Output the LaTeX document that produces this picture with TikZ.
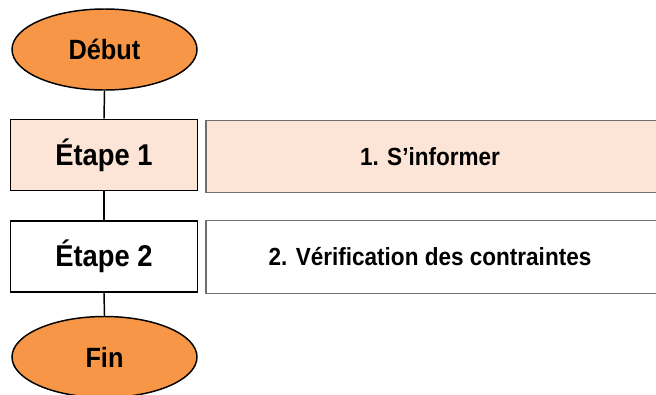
\documentclass[tikz,border=0pt]{standalone}
\usepackage{fontspec}
\usepackage{graphicx}
\setmainfont{Liberation Sans}
\usetikzlibrary{shapes.geometric}
\definecolor{orangefill}{HTML}{F79646}
\definecolor{peach}{HTML}{FCE4D6}
\definecolor{boxgray}{HTML}{6E6E6E}
\newcommand{\tallt}[1]{\scalebox{1}[1.1]{#1}}
\tikzset{
  term/.style={ellipse, draw=black, line width=1.1pt, fill=orangefill, inner sep=0pt,
    minimum width=138.75pt, minimum height=60.75pt,
    font=\fontsize{19}{22}\selectfont\bfseries},
  stepbox/.style={rectangle, draw=black, line width=1.1pt, inner sep=0pt,
    minimum width=140pt, minimum height=53.5pt,
    font=\fontsize{20.5}{24}\selectfont\bfseries},
  descbox/.style={rectangle, draw=boxgray, line width=0.9pt, inner sep=0pt,
    minimum width=342pt, minimum height=54.5pt,
    font=\fontsize{16.9}{20}\selectfont\bfseries},
  link/.style={draw=black, line width=1.1pt}
}
\begin{document}
\begin{tikzpicture}[x=0.75pt,y=-0.75pt]
\useasboundingbox (0,0) rectangle (656,394);
\node[term] (debut) at (104.5,49.5) {\tallt{Début}};
\node[stepbox, fill=peach] (e1) at (104,155) {\tallt{Étape 1}};
\node[stepbox, fill=white] (e2) at (104,256.5) {\tallt{Étape 2}};
\node[term] (fin) at (104.5,357) {\tallt{Fin}};
\node[descbox, fill=peach] (s1) at (434,156.5) {\hspace*{-6pt}\tallt{1. S’informer}};
\node[descbox, fill=white] (s2) at (434,257) {\hspace*{-6pt}\tallt{2. Vérification des contraintes}};
\draw[link] (debut.south) -- (e1.north);
\draw[link] (e1.south) -- (e2.north);
\draw[link] (e2.south) -- (fin.north);
\end{tikzpicture}
\end{document}
